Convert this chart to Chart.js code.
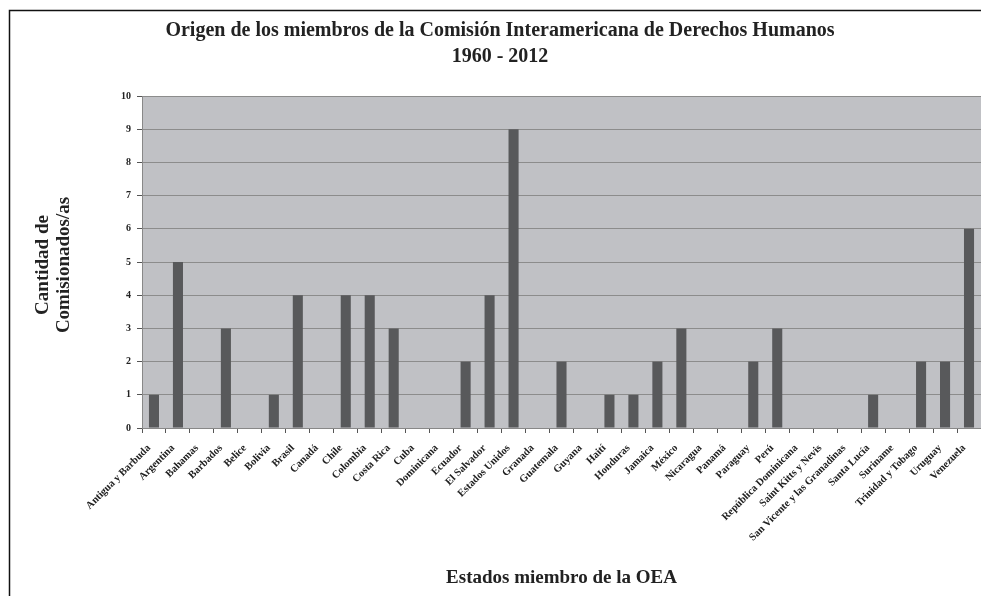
<!DOCTYPE html>
<html>
<head>
<meta charset="utf-8">
<script src="https://cdn.jsdelivr.net/npm/chart.js@4/dist/chart.umd.min.js"></script>
<style>
html,body{margin:0;padding:0;background:#fff;}
#wrap{width:981px;height:596px;position:relative;}
</style>
</head>
<body>
<div id="wrap"><canvas id="c" width="981" height="596"></canvas></div>
<script>
const categories = ["Antigua y Barbuda","Argentina","Bahamas","Barbados","Belice","Bolivia","Brasil","Canadá","Chile","Colombia","Costa Rica","Cuba","Dominicana","Ecuador","El Salvador","Estados Unidos","Granada","Guatemala","Guyana","Haití","Honduras","Jamaica","México","Nicaragua","Panamá","Paraguay","Perú","República Dominicana","Saint Kitts y Nevis","San Vicente y las Granadinas","Santa Lucía","Suriname","Trinidad y Tobago","Uruguay","Venezuela"];
const comisionados = [1,5,0,3,0,1,4,0,4,4,3,0,0,2,4,9,0,2,0,1,1,2,3,0,0,2,3,0,0,0,1,0,2,2,6];
const yTicks = [0,1,2,3,4,5,6,7,8,9,10];
const titleLines = ["Origen de los miembros de la Comisión Interamericana de Derechos Humanos","1960 - 2012"];
const xTitle = "Estados miembro de la OEA";
const yTitleLines = ["Cantidad de","Comisionados/as"];

const SERIF = '"Liberation Serif","Times New Roman",serif';

const decor = {
  id:'decor',
  beforeDraw(chart){
    const {ctx, chartArea:a} = chart;
    ctx.save();
    ctx.fillStyle='#fff';
    ctx.fillRect(0,0,chart.width,chart.height);
    ctx.fillStyle='#c0c1c5';
    ctx.fillRect(a.left,a.top,a.right-a.left,a.bottom-a.top);
    ctx.strokeStyle='#111';
    ctx.lineWidth=1.5;
    ctx.beginPath();
    ctx.moveTo(9.5,chart.height);
    ctx.lineTo(9.5,10.5);
    ctx.lineTo(chart.width,10.5);
    ctx.stroke();
    ctx.restore();
  },
  afterDraw(chart){
    const {ctx, chartArea:a} = chart;
    ctx.save();
    ctx.fillStyle='#222';
    ctx.textAlign='center';
    ctx.textBaseline='middle';
    ctx.font='bold 20px '+SERIF;
    ctx.fillText(titleLines[0],500,31);
    ctx.fillText(titleLines[1],500,57);
    ctx.font='bold 19px '+SERIF;
    ctx.fillText(xTitle,(a.left+a.right)/2,578);
    ctx.translate(53,265);
    ctx.rotate(-Math.PI/2);
    ctx.fillText(yTitleLines[0],0,-10);
    ctx.fillText(yTitleLines[1],0,11);
    ctx.restore();
  }
};

new Chart(document.getElementById('c'),{
  type:'bar',
  data:{labels:categories,datasets:[{data:comisionados,backgroundColor:'#58595b',borderWidth:0,barPercentage:0.42,categoryPercentage:1.0}]},
  plugins:[decor],
  options:{
    responsive:false,
    animation:false,
    devicePixelRatio:1,
    layout:{padding:{top:96,left:0,right:0,bottom:0}},
    plugins:{legend:{display:false},title:{display:false},tooltip:{enabled:false}},
    scales:{
      x:{
        afterFit(s){s.height=168;s.paddingLeft=0;s.paddingRight=0;},
        grid:{display:true,drawOnChartArea:false,offset:true,color:'#555',tickLength:5},
        border:{display:true,color:'#888',width:1},
        ticks:{autoSkip:false,minRotation:45,maxRotation:45,padding:9,labelOffset:-5,color:'#222',font:{family:SERIF,size:10.5,weight:'bold'}}
      },
      y:{
        min:0,max:10,
        afterFit(s){s.width=142;s.paddingTop=0;s.paddingBottom=0;},
        afterBuildTicks(s){s.ticks=yTicks.map(v=>({value:v}));},
        grid:{color:'#8c8c8c',lineWidth:1,tickLength:5,tickColor:'#555'},
        border:{display:true,color:'#888',width:1},
        ticks:{padding:6,color:'#222',font:{family:SERIF,size:10,weight:'bold'}}
      }
    }
  }
});
</script>
</body>
</html>
